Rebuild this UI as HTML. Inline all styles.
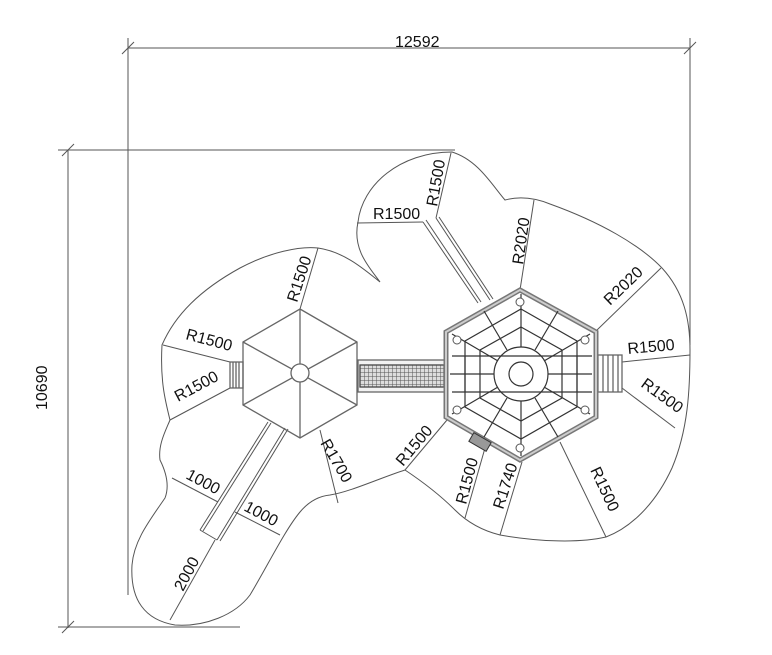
<!DOCTYPE html>
<html><head><style>html,body{margin:0;padding:0;background:#fff}svg{display:block}text{font-family:"Liberation Sans",sans-serif;font-size:16px;fill:#111}</style></head>
<body>
<svg width="772" height="655" viewBox="0 0 772 655" xmlns="http://www.w3.org/2000/svg">
<defs>
<pattern id="mesh" width="4" height="4" patternUnits="userSpaceOnUse"><rect width="4" height="4" fill="#ddd"/><path d="M0,0H4M0,0V4" stroke="#555" stroke-width="1"/></pattern>
</defs>
<g stroke="#555" stroke-width="1" fill="none">
<line x1="128" y1="48" x2="690" y2="48"/>
<line x1="128" y1="38" x2="128" y2="595"/>
<line x1="690" y1="38" x2="690" y2="345"/>
<line x1="122" y1="54" x2="134" y2="42"/><line x1="684" y1="54" x2="696" y2="42"/>
<line x1="68" y1="150" x2="68" y2="628"/>
<line x1="58" y1="150" x2="455" y2="150"/>
<line x1="58" y1="627" x2="240" y2="627"/>
<line x1="62" y1="156" x2="74" y2="144"/><line x1="62" y1="633" x2="74" y2="621"/>
<path d="M380,282 C370,268 352,250 358,222 C362,185 400,152 452,152 C478,160 492,185 505,200 C520,196 535,198 550,204 C600,222 640,245 662,268 C684,292 690,320 690,350 C690,390 688,430 672,468 C655,505 630,528 606,537 C580,543 540,542 500,535 C480,530 465,520 455,510 C440,495 420,480 405,470 C380,478 350,492 330,495 C320,496 310,500 300,512 C285,530 268,565 250,595 C235,615 205,627 175,625 C145,620 130,600 132,565 C134,540 150,520 165,498 C170,485 165,470 160,460 C158,445 165,432 170,420 C165,400 160,380 162,345 C175,315 200,290 240,268 C270,252 300,246 318,248 C345,252 365,270 380,282 Z"/>
<line x1="300" y1="309" x2="318" y2="248"/>
<line x1="230" y1="362" x2="163" y2="345"/>
<line x1="230" y1="388" x2="170" y2="420"/>
<line x1="320" y1="430" x2="338" y2="503"/>
<line x1="357" y1="223" x2="423" y2="222"/>
<line x1="436" y1="218" x2="451" y2="153"/>
<line x1="520" y1="290" x2="534" y2="200"/>
<line x1="597" y1="330" x2="661" y2="268"/>
<line x1="622" y1="362" x2="690" y2="355"/>
<line x1="622" y1="388" x2="675" y2="428"/>
<line x1="560" y1="442" x2="606" y2="537"/>
<line x1="522" y1="462" x2="500" y2="535"/>
<line x1="485" y1="448" x2="465" y2="518"/>
<line x1="447" y1="420" x2="405" y2="470"/>
<line x1="172" y1="478" x2="218" y2="502"/>
<line x1="235" y1="512" x2="280" y2="535"/>
<line x1="215" y1="540" x2="170" y2="620"/>
<line x1="423" y1="222" x2="478" y2="303"/><line x1="426" y1="220" x2="481" y2="302"/>
<line x1="436" y1="218" x2="490" y2="300"/><line x1="439" y1="217" x2="493" y2="299"/>
<line x1="268" y1="422" x2="200" y2="530"/><line x1="271" y1="423" x2="203" y2="531"/>
<line x1="285" y1="428" x2="217" y2="540"/><line x1="288" y1="429" x2="220" y2="541"/>
<line x1="200" y1="530" x2="217" y2="540"/>
</g>
<g stroke="#666" fill="none" stroke-width="1.3">
<polygon points="300,309 357,342 357,405 300,438 243,405 243,342"/>
<line x1="300" y1="309" x2="300" y2="438"/><line x1="243" y1="342" x2="357" y2="405"/><line x1="243" y1="405" x2="357" y2="342"/>
<circle cx="300" cy="373" r="9" fill="#fff"/>
<rect x="230" y="362" width="13" height="26"/>
<line x1="233" y1="362" x2="233" y2="388"/><line x1="236" y1="362" x2="236" y2="388"/><line x1="239" y1="362" x2="239" y2="388"/>
<rect x="358" y="360" width="88" height="32" fill="#f2f2f2"/>
<rect x="360" y="365" width="84" height="22" fill="url(#mesh)" stroke="#444"/>
<rect x="598" y="355" width="24" height="37"/>
<line x1="603" y1="355" x2="603" y2="392"/><line x1="608" y1="355" x2="608" y2="392"/><line x1="613" y1="355" x2="613" y2="392"/><line x1="618" y1="355" x2="618" y2="392"/>
</g>
<g fill="none">
<polygon points="520,290 596,332 596,417 520,460 446,417 446,332" stroke="#777" stroke-width="5"/>
<polygon points="520,290 596,332 596,417 520,460 446,417 446,332" stroke="#ccc" stroke-width="2"/>
<g stroke="#333" stroke-width="1.2">
<circle cx="521" cy="374" r="12"/><circle cx="521" cy="374" r="27"/>
<polygon points="521,327 562,350 562,398 521,421 480,398 480,350"/>
<polygon points="521,309 577,341 577,407 521,439 465,407 465,341"/>
<line x1="521" y1="294" x2="521" y2="347"/><line x1="521" y1="401" x2="521" y2="456"/>
<line x1="452" y1="334" x2="498" y2="361"/><line x1="590" y1="334" x2="544" y2="361"/>
<line x1="452" y1="414" x2="498" y2="387"/><line x1="590" y1="414" x2="544" y2="387"/>
<line x1="450" y1="374" x2="494" y2="374"/><line x1="548" y1="374" x2="592" y2="374"/>
<line x1="484" y1="311" x2="507" y2="350"/><line x1="558" y1="311" x2="535" y2="350"/>
<line x1="484" y1="437" x2="507" y2="398"/><line x1="558" y1="437" x2="535" y2="398"/>
<line x1="465" y1="356" x2="465" y2="392"/><line x1="577" y1="356" x2="577" y2="392"/>
<line x1="452" y1="356" x2="592" y2="356" stroke-dasharray="0"/>
<line x1="452" y1="392" x2="592" y2="392"/>
</g>
<g stroke="#555" fill="#fff"><circle cx="520" cy="302" r="4"/><circle cx="457" cy="340" r="4"/><circle cx="585" cy="340" r="4"/><circle cx="457" cy="410" r="4"/><circle cx="585" cy="410" r="4"/><circle cx="520" cy="448" r="4"/></g>
<rect x="470" y="437" width="20" height="10" transform="rotate(30 480 442)" stroke="#333" fill="#999"/>
</g>
<text x="395" y="47">12592</text>
<text transform="translate(47,410) rotate(-90)">10690</text>
<text transform="translate(437,207) rotate(-80)">R1500</text>
<text transform="translate(373,219)">R1500</text>
<text transform="translate(523,265) rotate(-82)">R2020</text>
<text transform="translate(610,306) rotate(-44)">R2020</text>
<text transform="translate(628,354) rotate(-5)">R1500</text>
<text transform="translate(640,386) rotate(36)">R1500</text>
<text transform="translate(590,470) rotate(65)">R1500</text>
<text transform="translate(503,510) rotate(-72)">R1740</text>
<text transform="translate(466,505) rotate(-75)">R1500</text>
<text transform="translate(403,467) rotate(-50)">R1500</text>
<text transform="translate(320,443) rotate(60)">R1700</text>
<text transform="translate(297,303) rotate(-72)">R1500</text>
<text transform="translate(185,339) rotate(15)">R1500</text>
<text transform="translate(178,402) rotate(-28)">R1500</text>
<text transform="translate(185,478) rotate(28)">1000</text>
<text transform="translate(243,510) rotate(28)">1000</text>
<text transform="translate(183,592) rotate(-62)">2000</text>
</svg>
</body></html>
